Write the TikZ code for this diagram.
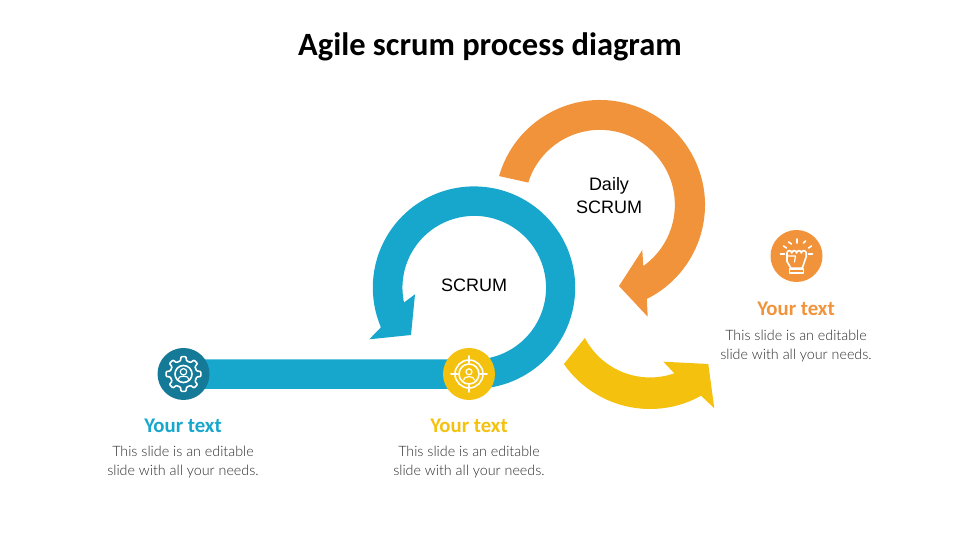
\documentclass[tikz,border=0pt]{standalone}
\usepackage{fontspec}
\setmainfont{Carlito}
\newfontfamily\bodyfont[UprightFont=* Light]{Lato}
\newfontfamily\labelfont{Liberation Sans}
\usepackage{xcolor}
\definecolor{accent}{HTML}{17A7CD}
\definecolor{accent2}{HTML}{F1933A}
\definecolor{accent3}{HTML}{F4C10E}
\definecolor{accentdark}{HTML}{147A97}
\definecolor{bodygrey}{HTML}{2B2B2B}

\begin{document}
\begin{tikzpicture}[x=1pt, y=1pt,
      badge/.style={circle, minimum size=52pt, inner sep=0pt},
      iconline/.style={draw=white, line width=1.6pt, line cap=round, line join=round},
      heading/.style={font=\fontsize{20.8}{22}\selectfont\bfseries},
      caption/.style={font=\bodyfont\fontsize{14.3}{19}\selectfont, text=bodygrey, align=center},
      ringlabel/.style={font=\labelfont\fontsize{18}{22.5}\selectfont, align=center}
    ]
      \useasboundingbox (0,0) rectangle (980,551);

      \node[font=\fontsize{32.5}{36}\selectfont\bfseries] (title) at (490,504) {Agile scrum process diagram};

      % orange loop
      \fill[accent2] (600,346) ++(164:105) arc[start angle=164, end angle=-63.5, radius=105]
        -- (647.7,234.3) -- (619,265) -- (642.3,301) -- (643.3,285)
        arc[start angle=-54.6, end angle=162.7, radius=75] -- cycle;

      % blue loop with its bar
      \fill[accent] (184,162.2) -- (474,162.2) arc[start angle=-90, end angle=203.1, radius=101.2]
        -- (369.3,211.7) -- (411,216) -- (415,256.7) -- (404,248.5)
        arc[start angle=191.9, end angle=-90, radius=71.8] -- (184,191.6) -- cycle;

      % yellow arrow
      \fill[accent3] (650,247) ++(214.9:105) arc[start angle=214.9, end angle=299.1, radius=105]
        -- (714.3,142.7) -- (708.3,187) -- (663.3,189.3) -- (674.3,177.7)
        arc[start angle=289.3, end angle=207.6, radius=73.5] -- cycle;

      \node[ringlabel] (scrum) at (474,266) {SCRUM};
      \node[ringlabel] (daily) at (609,355.5) {Daily\\SCRUM};

      % badges
      \node[badge, fill=accentdark] (gear) at (183.5,177) {};
      \node[badge, fill=accent3] (target) at (469,177) {};
      \node[badge, fill=accent2] (fist) at (796.5,295) {};

      \begin{scope}[shift={(gear.center)}]
        \draw[iconline, rounded corners=0.8pt] (-22.5:13.5)
          \foreach \a in {0,45,...,315} {-- (\a-13:13.5) -- (\a-8:17.5) -- (\a+8:17.5) -- (\a+13:13.5)} -- cycle;
        \draw[iconline] (0,0) circle (8.5);
        \draw[iconline, line width=1.2pt] (0,2.2) circle (3.2);
        \draw[iconline, line width=1.2pt] (-5.5,-5.5) .. controls (-5.5,-1) and (5.5,-1) .. (5.5,-5.5);
      \end{scope}

      \begin{scope}[shift={(target.center)}]
        \draw[iconline] (0,0) circle (14);
        \draw[iconline] (0,0) circle (10);
        \foreach \a in {0,90,180,270} \draw[iconline] (\a:11.5) -- (\a:18);
        \draw[iconline, line width=1.2pt] (0,2.2) circle (3);
        \draw[iconline, line width=1.2pt] (-5.5,-6) .. controls (-5.5,-1.5) and (5.5,-1.5) .. (5.5,-6);
      \end{scope}

      \begin{scope}[shift={(fist.center)}]
        \draw[iconline] (-9.5,3) -- (-9.5,-5.5) -- (-5.5,-12.3) -- (5.7,-12.3) -- (9.7,-0.7) -- (9.7,3)
          arc[start angle=0, end angle=180, radius=2.4] arc[start angle=0, end angle=180, radius=2.4]
          arc[start angle=0, end angle=180, radius=2.4] arc[start angle=0, end angle=180, radius=2.4] -- cycle;
        \draw[iconline, line width=1.2pt] (-9.5,0) -- (-1,0) -- (-2,-6);
        \draw[iconline] (-7,-17.3) -- (-7,-13) -- (7,-13) -- (7,-17.3) -- cycle;
        \foreach \xa/\ya/\xb/\yb in {-16/2/-12/2, 12/2/16/2, -13/10/-10/8, 12/8/15/10, -8/14/-5/12, 7/13/9/15, 0.7/13/0.7/17}
          \draw[iconline] (\xa,\ya) -- (\xb,\yb);
      \end{scope}

      % captions
      \node[heading, text=accent] (head1) at (183,125) {Your text};
      \node[caption] (body1) at (183,88.5) {This slide is an editable\\slide with all your needs.};
      \node[heading, text=accent3] (head2) at (469,125) {Your text};
      \node[caption] (body2) at (469,88.5) {This slide is an editable\\slide with all your needs.};
      \node[heading, text=accent2] (head3) at (796,242) {Your text};
      \node[caption] (body3) at (796,205) {This slide is an editable\\slide with all your needs.};
    \end{tikzpicture}
\end{document}
